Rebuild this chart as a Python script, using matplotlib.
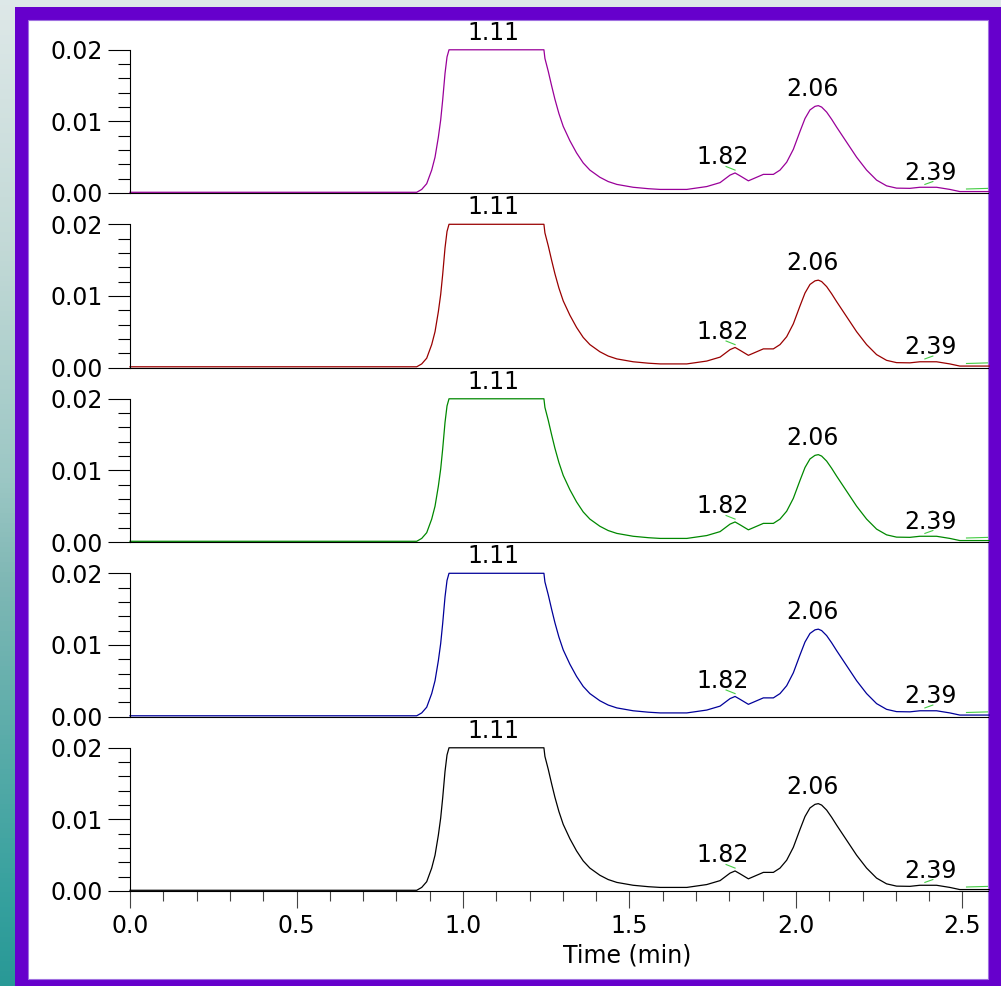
import numpy as np
import matplotlib
matplotlib.use('Agg')
import matplotlib.pyplot as plt
from matplotlib.patches import Rectangle
from matplotlib.ticker import MultipleLocator, FixedLocator, FormatStrFormatter

# chromatogram (same trace in all five channels)
time_min = [0.0, 0.861, 0.876, 0.891, 0.906, 0.916, 0.926, 0.933, 0.939, 0.946, 0.952, 0.958,
            1.243, 1.246, 1.256, 1.266, 1.276, 1.288, 1.301, 1.321, 1.341, 1.361, 1.381, 1.411,
            1.436, 1.462, 1.511, 1.557, 1.592, 1.672, 1.732, 1.772, 1.802, 1.817, 1.832,
            1.857, 1.872, 1.902, 1.932, 1.952, 1.972, 1.992, 2.012, 2.027, 2.042, 2.057,
            2.067, 2.077, 2.092, 2.107, 2.122, 2.152, 2.182, 2.212, 2.242, 2.272, 2.302, 2.342,
            2.372, 2.422, 2.462, 2.492, 2.58]
signal = [0.0001, 0.0001, 0.0005, 0.0013, 0.0032, 0.0050, 0.0078, 0.0102, 0.0130, 0.0167, 0.0190, 0.0200,
          0.0200, 0.0188, 0.0170, 0.0150, 0.0131, 0.0111, 0.0093, 0.0073, 0.0056, 0.0042, 0.0032, 0.0022,
          0.0016, 0.0012, 0.0008, 0.0006, 0.0005, 0.0005, 0.0009, 0.00145, 0.0025, 0.0028, 0.0024,
          0.0017, 0.0020, 0.0026, 0.0026, 0.0032, 0.0043, 0.0061, 0.0086, 0.0104, 0.0116, 0.0121,
          0.0122, 0.0120, 0.0113, 0.0103, 0.0092, 0.0071, 0.0050, 0.0032, 0.0018, 0.0010, 0.00068, 0.00065,
          0.0008, 0.0008, 0.0005, 0.0002, 0.0002]

peak_labels = ['1.11', '1.82', '2.06', '2.39']
label_x = [1.09, 1.78, 2.05, 2.405]
label_y = [0.0224, 0.0050, 0.01455, 0.0028]

# small green integration marks
mark_t = [[1.790, 1.817], [2.387, 2.411], [2.512, 2.58]]
mark_v = [[0.0037, 0.0032], [0.0012, 0.0016], [0.00056, 0.00065]]

trace_colors = ['#990099', '#990000', '#008800', '#000099', '#000000']

W, H = 1001, 986
fig = plt.figure(figsize=(W / 100, H / 100), dpi=100)

# background gradient + purple frame
bg = fig.add_axes([0, 0, 1, 1], zorder=-10)
bg.set_xlim(0, W)
bg.set_ylim(H, 0)
bg.axis('off')
ys = np.linspace(0, H, 200)
stops = [0, 250, 480, 580, 900, 986]
r = np.interp(ys, stops, [0.87, 0.76, 0.61, 0.50, 0.21, 0.16])
g = np.interp(ys, stops, [0.91, 0.85, 0.78, 0.72, 0.63, 0.60])
b = np.interp(ys, stops, [0.91, 0.84, 0.77, 0.71, 0.62, 0.59])
grad = np.stack([r, g, b], axis=1)[:, None, :].repeat(2, axis=1)
bg.imshow(grad, extent=(0, W, H, 0), aspect='auto')
bg.add_patch(Rectangle((15, 7), W, H, facecolor='#6600cc', edgecolor='none'))
bg.add_patch(Rectangle((28, 20), 988 - 28, 979 - 20, facecolor='white',
                       edgecolor='#a070e0', linewidth=0.8))

left, right = 130, 988
step = 174.5
ph = 174
xmax = (right - left) / 333.0

for i, col in enumerate(trace_colors):
    bottom = 95 + step * (4 - i)
    ax = fig.add_axes([left / W, bottom / H, (right - left) / W, ph / H])
    ax.set_facecolor('none')
    ax.plot(time_min, signal, color=col, linewidth=0.9, clip_on=False)
    for mt, mv in zip(mark_t, mark_v):
        ax.plot(mt, mv, color='#44cc44', linewidth=0.8)
    for txt, lx, ly in zip(peak_labels, label_x, label_y):
        ax.text(lx, ly, txt, ha='center', va='center', fontsize=17, clip_on=False)

    ax.set_xlim(0, xmax)
    ax.set_ylim(0, 0.0243)
    ax.spines['top'].set_visible(False)
    ax.spines['right'].set_visible(False)
    ax.spines['left'].set_bounds(0, 0.02)
    for s in ('left', 'bottom'):
        ax.spines[s].set_linewidth(0.8)
        ax.spines[s].set_color('black')

    ax.yaxis.set_major_locator(FixedLocator([0.0, 0.01, 0.02]))
    ax.yaxis.set_minor_locator(FixedLocator([0.002, 0.004, 0.006, 0.008,
                                             0.012, 0.014, 0.016, 0.018]))
    ax.yaxis.set_major_formatter(FormatStrFormatter('%.2f'))
    ax.tick_params(axis='y', which='major', length=15.8, width=0.8, pad=3.6, labelsize=17)
    ax.tick_params(axis='y', which='minor', length=8.6, width=0.8)

    if i == 4:
        ax.xaxis.set_major_locator(MultipleLocator(0.5))
        ax.xaxis.set_minor_locator(MultipleLocator(0.1))
        ax.xaxis.set_major_formatter(FormatStrFormatter('%.1f'))
        ax.tick_params(axis='x', which='major', length=12.2, width=0.8, pad=4.3,
                       labelsize=17, color='#444444')
        ax.tick_params(axis='x', which='minor', length=7.2, width=0.8, color='#444444')
        ax.set_xlabel('Time (min)', fontsize=17, va='center')
        ax.xaxis.set_label_coords(0.579, -0.368)
    else:
        ax.tick_params(axis='x', which='both', bottom=False, labelbottom=False)

plt.savefig('out.png', dpi=100)
